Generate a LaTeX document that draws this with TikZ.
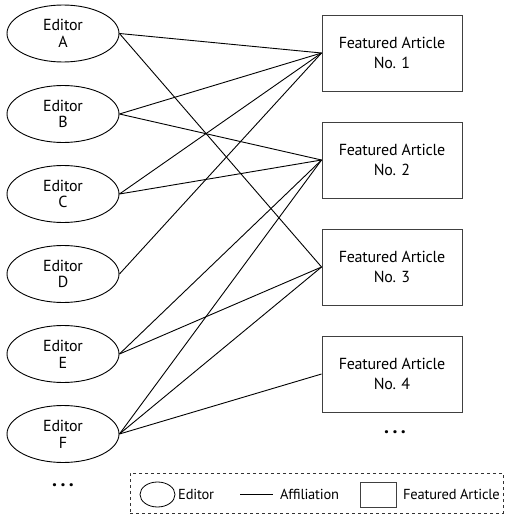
\documentclass[tikz,border=0pt]{standalone}
\usepackage{fontspec}
\setmainfont{PT Sans}[LetterSpace=-1.5]
\usetikzlibrary{shapes.geometric}
\tikzset{
  editor/.style={ellipse,draw=black,line width=0.9pt,minimum width=112pt,minimum height=57pt,inner sep=0pt,align=center,font=\fontsize{16}{16.7}\selectfont},
  article/.style={rectangle,draw=black!75,line width=0.9pt,minimum width=140pt,minimum height=76pt,inner sep=0pt,align=center,font=\fontsize{16}{20.7}\selectfont},
  link/.style={draw=black,line width=0.9pt},
  legtext/.style={anchor=west,inner sep=0pt,font=\fontsize{14.5}{15}\selectfont},
  dots/.style={inner sep=0pt,font=\fontsize{20}{20}\bfseries}
}
\begin{document}
\begin{tikzpicture}[x=1pt,y=-1pt]
\useasboundingbox (0,0) rectangle (505,514);
% editors
\node[editor] (A) at (63,33.5) {Editor\\A};
\node[editor] (B) at (63,114) {Editor\\B};
\node[editor] (C) at (63,194) {Editor\\C};
\node[editor] (D) at (63,274) {Editor\\D};
\node[editor] (E) at (63,354) {Editor\\E};
\node[editor] (F) at (63,434) {Editor\\F};
\node[dots] (ld) at (63,485) {.\hspace{3.5pt}.\hspace{3.5pt}.};
% articles
\node[article] (N1) at (392,53) {Featured Article\\No. 1};
\node[article] (N2) at (392,160) {Featured Article\\No. 2};
\node[article] (N3) at (392,267) {Featured Article\\No. 3};
\node[article] (N4) at (392,374) {Featured Article\\No. 4};
\node[dots] (rd) at (395,432) {.\hspace{3.5pt}.\hspace{3.5pt}.};
% affiliations
\foreach \e/\a in {A/N1,A/N3,B/N1,B/N2,C/N1,C/N2,D/N1,E/N2,E/N3,F/N2,F/N3,F/N4}
  \draw[link] (\e.east) -- (\a.west);
% legend
\node[draw=black!80,dashed,line width=0.8pt,minimum width=373pt,minimum height=40pt,inner sep=0pt] (leg) at (316.5,493) {};
\node[ellipse,draw=black,line width=0.8pt,minimum width=35pt,minimum height=25pt,inner sep=0pt] (le) at (157.5,494.5) {};
\node[legtext] (lt1) at (178,494.5) {Editor};
\coordinate (l1) at (240,494.5);
\coordinate (l2) at (273,494.5);
\draw[link] (l1) -- (l2);
\node[legtext] (lt2) at (280,494.5) {Affiliation};
\node[rectangle,draw=black!75,line width=0.8pt,minimum width=36pt,minimum height=25pt,inner sep=0pt] (lr) at (378,494.5) {};
\node[legtext] (lt3) at (403,494.5) {Featured Article};
\end{tikzpicture}
\end{document}
